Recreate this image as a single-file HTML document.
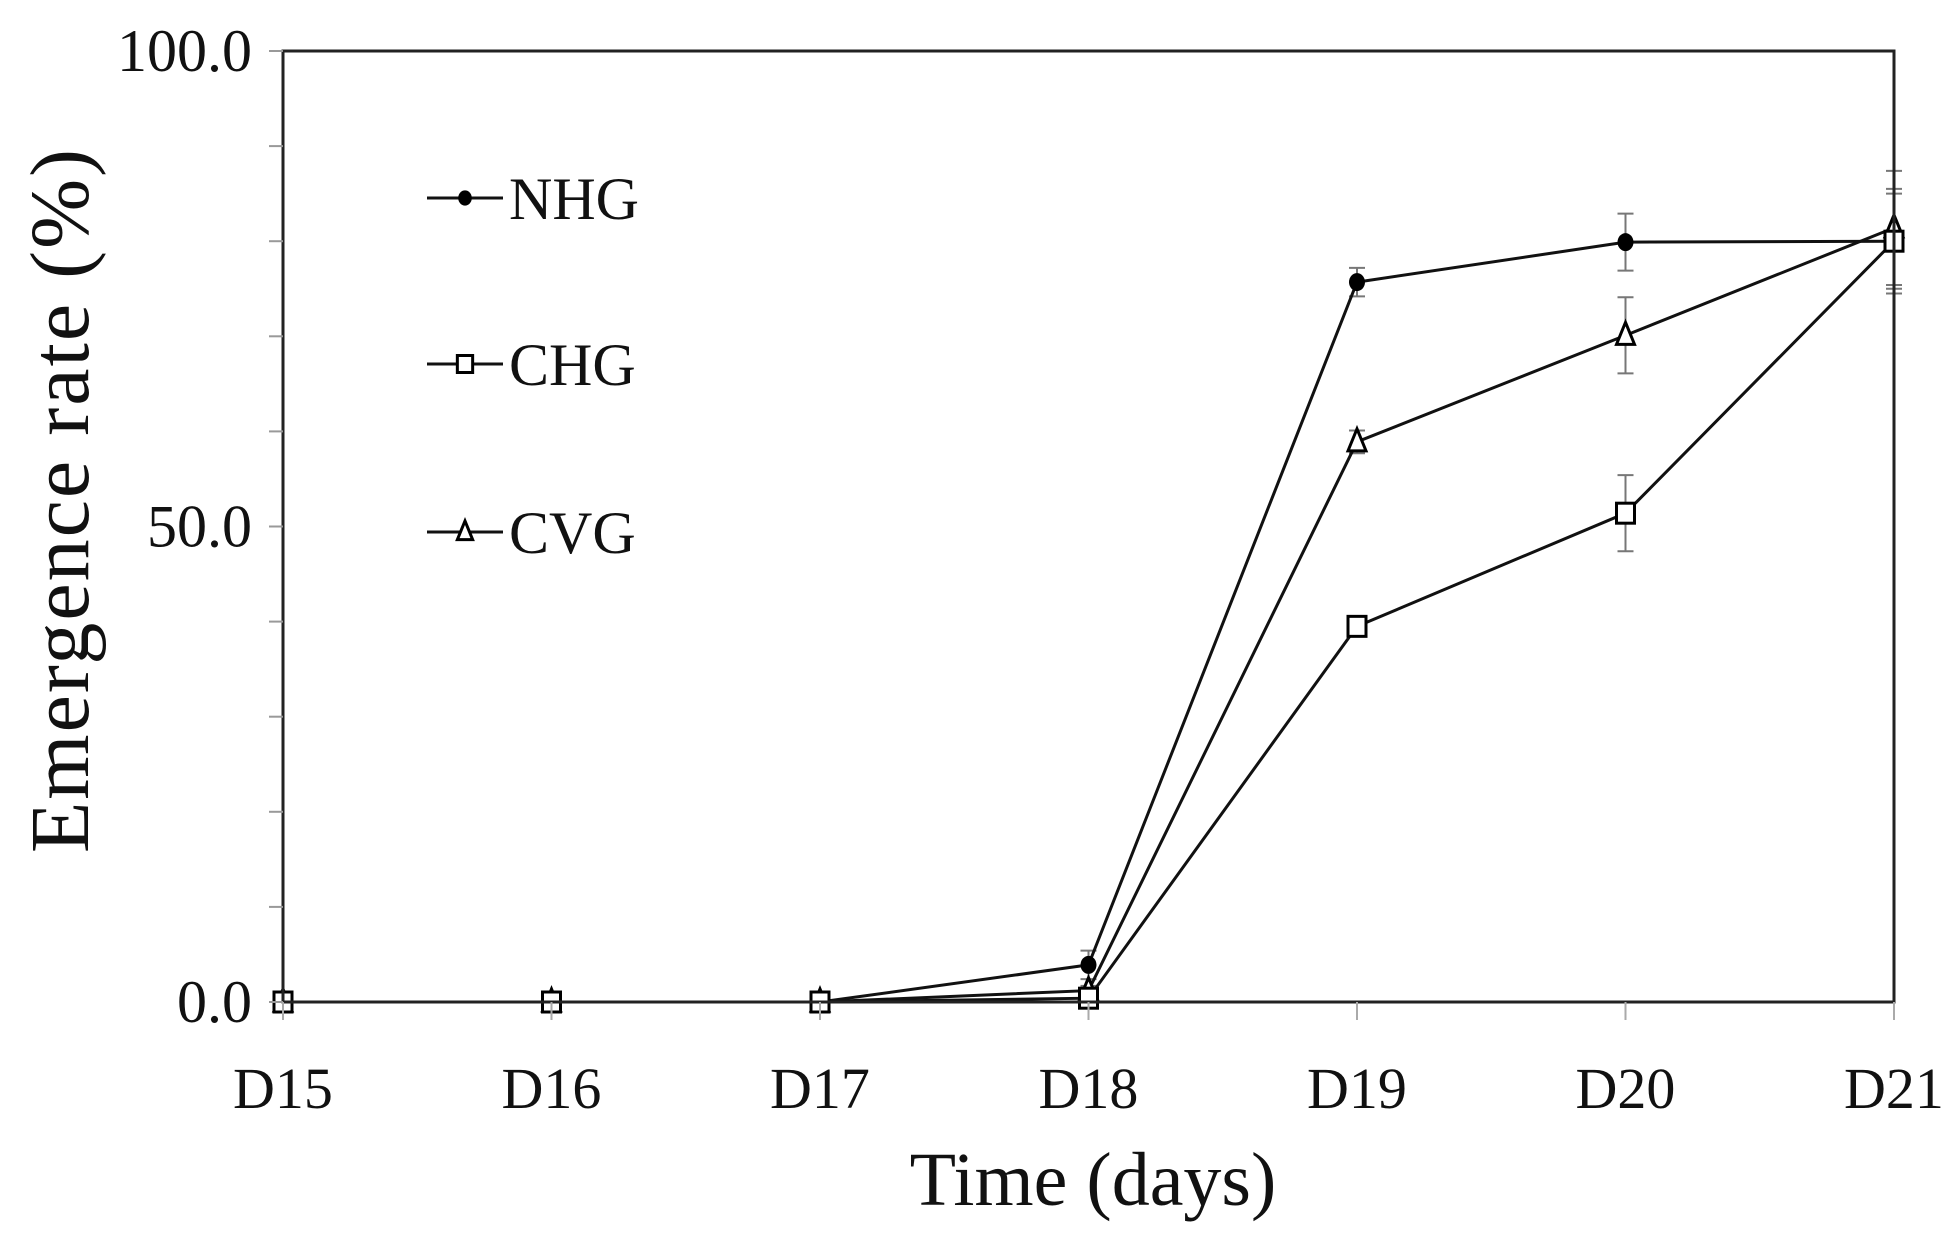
<!DOCTYPE html>
<html><head><meta charset="utf-8"><style>
html,body{margin:0;padding:0;background:#fff}
svg{display:block}
text{font-family:"Liberation Serif",serif;fill:#111}
</style></head><body>
<svg id="chart" width="1954" height="1243" viewBox="0 0 1954 1243" xmlns="http://www.w3.org/2000/svg">
<g id="grid"></g>
<g id="series"></g>
<rect x="283" y="51" width="1611" height="951" fill="none" stroke="#222" stroke-width="3"/>
<g id="axes"></g>
<text transform="translate(88,500) rotate(-90)" text-anchor="middle" font-size="84" letter-spacing="2">Emergence rate (%)</text>
<text x="1093" y="1205" text-anchor="middle" font-size="76">Time (days)</text>
<g id="legend"></g>
</svg>
<script>
const categories = ["D15","D16","D17","D18","D19","D20","D21"];
const nhg = [0,0,0,3.9,75.7,79.9,80.0];
const chg = [0,0,0,0.4,39.5,51.4,80.0];
const cvg = [0,0,0,1.2,58.9,70.1,81.4];
const nhgErr = [0,0,0,1.5,1.5,3.0,5.0];
const chgErr = [0,0,0,0.5,1.0,4.0,5.5];
const cvgErr = [0,0,0,0.5,1.2,4.0,6.0];
const yTicks = [0,50,100];
const yTickLabels = ["0.0","50.0","100.0"];
const seriesNames = ["NHG","CHG","CVG"];

const NS="http://www.w3.org/2000/svg";
const L=283,R=1894,T=51,B=1002;
function x(i){return L+(R-L)*i/(categories.length-1);}
function y(v){return B-(B-T)*v/100;}
function mk(tag,attrs,parent){const e=document.createElementNS(NS,tag);for(const k in attrs)e.setAttribute(k,attrs[k]);parent.appendChild(e);return e;}
const axes=document.getElementById('axes'),series=document.getElementById('series'),legend=document.getElementById('legend');

for(let v=0;v<=100;v+=10){
  const t=mk('line',{x1:L-14,x2:L,y1:y(v),y2:y(v),stroke:'#999','stroke-width':2},axes);
  
  
}
yTicks.forEach((v,i)=>{
  const t=mk('text',{x:252,y:y(v)+20,'text-anchor':'end','font-size':60},axes);
  t.textContent=yTickLabels[i];
  
  
});
categories.forEach((c,i)=>{
  const tk=mk('line',{x1:x(i),x2:x(i),y1:B,y2:B+18,stroke:'#aaa','stroke-width':2},axes);
  
  
  const t=mk('text',{x:x(i),y:1108,'text-anchor':'middle','font-size':58},axes);
  t.textContent=c;
  
  
});

function marker(type,cx,cy,parent,s){
  let m;
  if(type==='circle')m=mk('ellipse',{cx:cx,cy:cy,rx:8*s,ry:9*s,fill:'#000'},parent);
  else if(type==='square')m=mk('rect',{x:cx-9*s,y:cy-10*s,width:18*s,height:20*s,fill:'#fff',stroke:'#000','stroke-width':3},parent);
  else m=mk('path',{d:`M${cx} ${cy-13*s} L${cx+9*s} ${cy+9*s} L${cx-9*s} ${cy+9*s} Z`,fill:'#fff',stroke:'#000','stroke-width':3},parent);
  return m;
}
function drawSeries(vals,errs,type,name){
  const g=mk('g',{},series);
  
  
  vals.forEach((v,i)=>{
    if(errs[i]>0){
      const e=mk('path',{d:`M${x(i)} ${y(v+errs[i])} V${y(v-errs[i])} M${x(i)-8} ${y(v+errs[i])} h16 M${x(i)-8} ${y(v-errs[i])} h16`,stroke:'#777','stroke-width':2,fill:'none'},g);
      
      
    }
  });
  const p=mk('polyline',{points:vals.map((v,i)=>x(i)+','+y(v)).join(' '),fill:'none',stroke:'#111','stroke-width':3},g);
  
  
  vals.forEach((v,i)=>{
    const m=marker(type,x(i),y(v),g,1);
    
    
  });
}
drawSeries(nhg,nhgErr,'circle','NHG');
drawSeries(cvg,cvgErr,'triangle','CVG');
drawSeries(chg,chgErr,'square','CHG');

const types=['circle','square','triangle'];
const ly=[198,364,532];
seriesNames.forEach((n,i)=>{
  const g=mk('g',{},legend);
  
  
  mk('line',{x1:427,x2:503,y1:ly[i],y2:ly[i],stroke:'#111','stroke-width':3},g);
  marker(types[i],465,ly[i],g,0.85);
  const t=mk('text',{x:509,y:ly[i]+21,'font-size':60},g);
  t.textContent=n;
});
</script>
</body></html>
